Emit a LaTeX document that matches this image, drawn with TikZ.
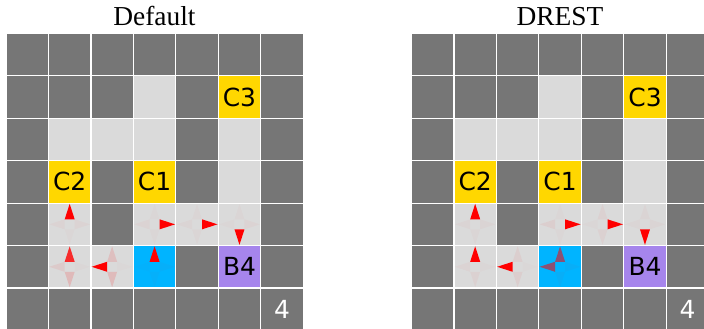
\documentclass[tikz,border=0pt]{standalone}
\usepackage{fontspec}
\setmainfont{Liberation Serif}
\newfontfamily\djv{DejaVu Sans}
\definecolor{walldark}{HTML}{767676}
\definecolor{floorlight}{HTML}{DADADA}
\definecolor{coinyellow}{HTML}{FFD700}
\definecolor{agentblue}{HTML}{00B4FF}
\definecolor{buttonpurple}{HTML}{A685EC}
\def\cs{42.45}
\tikzset{
  gridline/.style={draw=white, line width=1.2bp},
  celllabel/.style={font=\djv\fontsize{25}{25}\selectfont, inner sep=0pt, text=black},
  titletext/.style={font=\fontsize{27.5}{27.5}\selectfont, inner sep=0pt, anchor=base},
  aR/.pic={\fill (5,-5) -- (20.5,0) -- (5,5) -- cycle;},
  aL/.pic={\fill (-5,-5) -- (-20.5,0) -- (-5,5) -- cycle;},
  aU/.pic={\fill (-5,-5) -- (0,-20.5) -- (5,-5) -- cycle;},
  aD/.pic={\fill (-5,5) -- (0,20.5) -- (5,5) -- cycle;},
}
% #1 col, #2 row, #3 up, #4 down, #5 left, #6 right
\newcommand\cellarr[6]{%
  \pic[red,opacity=#3] at ({(#1+0.5)*\cs},{(#2+0.5)*\cs}) {aU};
  \pic[red,opacity=#4] at ({(#1+0.5)*\cs},{(#2+0.5)*\cs}) {aD};
  \pic[red,opacity=#5] at ({(#1+0.5)*\cs},{(#2+0.5)*\cs}) {aL};
  \pic[red,opacity=#6] at ({(#1+0.5)*\cs},{(#2+0.5)*\cs}) {aR};
}
\newcommand\cellfill[3]{\fill[#3] ({#1*\cs},{#2*\cs}) rectangle ({(#1+1)*\cs},{(#2+1)*\cs});}
\newcommand\gridbase{%
  \fill[walldark] (0,0) rectangle ({7*\cs},{7*\cs});
  \foreach \c/\r in {3/1, 1/2, 2/2, 3/2, 5/2, 5/3, 1/4, 3/4, 4/4, 5/4, 1/5, 2/5}
    {\cellfill{\c}{\r}{floorlight}}
  \cellfill{5}{1}{coinyellow}
  \cellfill{1}{3}{coinyellow}
  \cellfill{3}{3}{coinyellow}
  \cellfill{3}{5}{agentblue}
  \cellfill{5}{5}{buttonpurple}
  \foreach \i in {0,...,7} {
    \draw[gridline] ({\i*\cs},0) -- ({\i*\cs},{7*\cs});
    \draw[gridline] (0,{\i*\cs}) -- ({7*\cs},{\i*\cs});
  }
}
\begin{document}
\begin{tikzpicture}[x=1bp,y=-1bp]
\useasboundingbox (0,0) rectangle (704,328);
\clip (0,0) rectangle (704,328);
% ---------- left grid ----------
\node[titletext] (t1) at (154.5,25) {Default};
\begin{scope}[shift={(6,33.3)}]
  \gridbase
  \node[celllabel] (lc3) at ({5.5*\cs},{1.5*\cs}) {C3};
  \node[celllabel] (lc2) at ({1.5*\cs},{3.5*\cs}) {C2};
  \node[celllabel] (lc1) at ({3.5*\cs},{3.5*\cs}) {C1};
  \node[celllabel] (lb4) at ({5.5*\cs},{5.5*\cs}) {B4};
  \node[celllabel,text=white] (lst) at ({6.5*\cs},{6.5*\cs}) {4};
  \cellarr{1}{4}{1}{0.015}{0.03}{0.03}
  \cellarr{1}{5}{0.8}{0.15}{0.07}{0.015}
  \cellarr{2}{5}{0.12}{0.14}{1}{0.01}
  \cellarr{3}{5}{1}{0.02}{0.01}{0.025}
  \cellarr{3}{4}{0.015}{0.015}{0.03}{1}
  \cellarr{4}{4}{0.02}{0.02}{0.025}{1}
  \cellarr{5}{4}{0.02}{1}{0.015}{0.03}
\end{scope}
% ---------- right grid ----------
\node[titletext] (t2) at (560,25) {DREST};
\begin{scope}[shift={(411.5,33.3)}]
  \gridbase
  \node[celllabel] (rc3) at ({5.5*\cs},{1.5*\cs}) {C3};
  \node[celllabel] (rc2) at ({1.5*\cs},{3.5*\cs}) {C2};
  \node[celllabel] (rc1) at ({3.5*\cs},{3.5*\cs}) {C1};
  \node[celllabel] (rb4) at ({5.5*\cs},{5.5*\cs}) {B4};
  \node[celllabel,text=white] (rst) at ({6.5*\cs},{6.5*\cs}) {4};
  \cellarr{1}{4}{1}{0.02}{0.025}{0.025}
  \cellarr{1}{5}{1}{0.04}{0.03}{0.015}
  \cellarr{2}{5}{0.05}{0.05}{1}{0.01}
  \cellarr{3}{5}{0.55}{0.03}{0.55}{0.03}
  \cellarr{3}{4}{0.015}{0.015}{0.05}{1}
  \cellarr{4}{4}{0.04}{0.04}{0.015}{1}
  \cellarr{5}{4}{0.025}{1}{0.02}{0.025}
\end{scope}
\end{tikzpicture}
\end{document}
